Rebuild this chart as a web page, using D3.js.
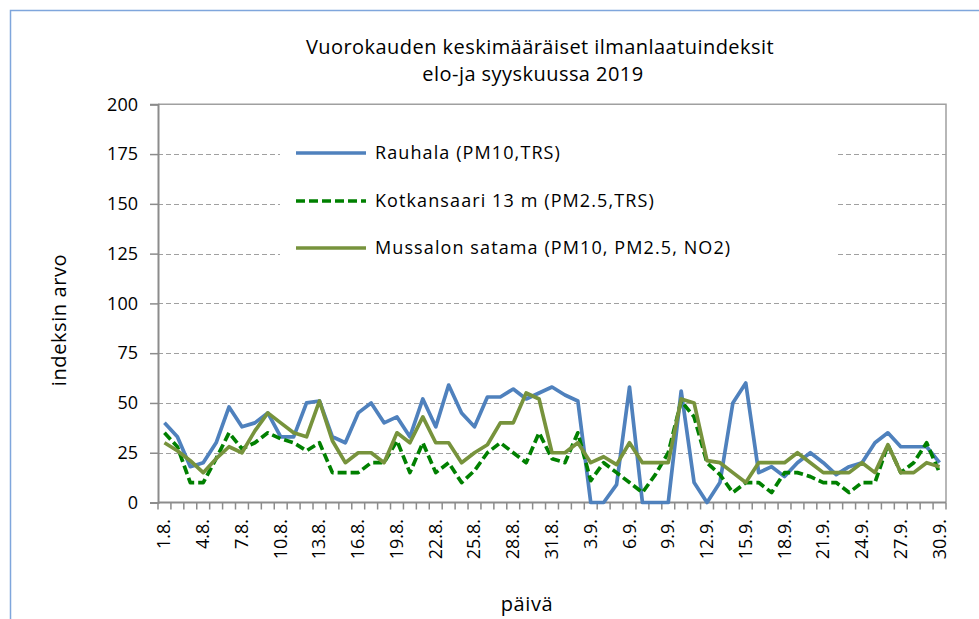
<!DOCTYPE html>
<html><head><meta charset="utf-8">
<script src="https://cdn.jsdelivr.net/npm/d3@7/dist/d3.min.js"></script>
<style>
body{margin:0;background:#fff;}
text{font-family:"Open Sans",sans-serif;fill:#000;}
</style></head>
<body><svg id="c" width="979" height="619"></svg>
<script>
const categories = [];
for (let d = 1; d <= 31; d++) categories.push(d + ".8.");
for (let d = 1; d <= 30; d++) categories.push(d + ".9.");
const tickLabels = categories.filter((c, i) => i % 3 === 0);
const yTicks = [0, 25, 50, 75, 100, 125, 150, 175, 200];
const seriesNames = ["Rauhala (PM10,TRS)", "Kotkansaari 13 m (PM2.5,TRS)", "Mussalon satama (PM10, PM2.5, NO2)"];
const rauhala = [40,33,18,20,30,48,38,40,45,33,33,50,51,33,30,45,50,40,43,33,52,38,59,45,38,53,53,57,52,55,58,54,51,0,0,9,58,0,0,0,56,10,0,10,50,60,15,18,13,20,25,20,14,18,20,30,35,28,28,28,20];
const kotkansaari = [35,28,10,10,22,35,27,30,35,32,30,26,30,15,15,15,20,20,31,15,30,15,20,10,16,25,30,25,20,35,22,20,35,11,20,15,10,5,14,25,51,43,20,14,5,10,10,5,15,15,13,10,10,5,10,10,29,15,20,30,15];
const mussalo = [30,26,21,15,22,28,25,36,45,40,35,33,51,31,20,25,25,20,35,30,43,30,30,20,25,29,40,40,55,52,25,25,30,20,23,19,30,20,20,20,52,50,21,20,15,10,20,20,20,25,20,15,15,15,20,15,29,15,15,20,18];

const svg = d3.select("#c");
const L = 158, R = 946, T = 104.3, B = 502.5;
const x = d3.scaleBand().domain(categories).range([L, R]).padding(0);
const xc = c => x(c) + x.bandwidth() / 2;
const y = d3.scaleLinear().domain([0, 200]).range([B, T]);

// outer frame
svg.append("path").attr("d", `M10.5,619 L10.5,10.5 L979,10.5`).attr("fill", "none").attr("stroke", "#7fa6dc").attr("stroke-width", 1.5);

// title
svg.append("text").attr("x", 540).attr("y", 54).attr("text-anchor", "middle").attr("font-size", 20).attr("letter-spacing", 0.45).text("Vuorokauden keskimääräiset ilmanlaatuindeksit");
svg.append("text").attr("x", 533).attr("y", 81).attr("text-anchor", "middle").attr("font-size", 20).attr("letter-spacing", 0.45).text("elo-ja syyskuussa 2019");

// gridlines
svg.append("g").selectAll("line").data(yTicks.filter(v => v > 0 && v < 200)).join("line")
  .attr("x1", L).attr("x2", R).attr("y1", d => Math.round(y(d)) + 0.5).attr("y2", d => Math.round(y(d)) + 0.5)
  .attr("stroke", "#a0a0a0").attr("stroke-width", 1.2).attr("stroke-dasharray", "5,3");

// plot border top & right
svg.append("path").attr("d", `M${L},${T} L${R},${T} L${R},${B}`).attr("fill", "none").attr("stroke", "#a0a0a0").attr("stroke-width", 1.5);

// y axis
const yAxis = d3.axisLeft(y).tickValues(yTicks).tickSize(8).tickPadding(12);
const gy = svg.append("g").attr("transform", `translate(${L},0)`).call(yAxis);
gy.select(".domain").attr("stroke", "#8c8c8c").attr("stroke-width", 2);
gy.selectAll(".tick line").attr("stroke", "#8c8c8c").attr("stroke-width", 1.5);
gy.selectAll(".tick text").attr("font-size", 18).attr("font-family", "Open Sans").attr("fill", "#000");

// x axis line and ticks at band boundaries
svg.append("line").attr("x1", L).attr("x2", R).attr("y1", B).attr("y2", B).attr("stroke", "#8c8c8c").attr("stroke-width", 2);
const bounds = categories.map(c => x(c)).concat([R]);
svg.append("g").selectAll("line").data(bounds).join("line")
  .attr("x1", d => d).attr("x2", d => d).attr("y1", B).attr("y2", B + 7)
  .attr("stroke", "#8c8c8c").attr("stroke-width", 1.5);

// x tick labels
svg.append("g").selectAll("text").data(tickLabels).join("text")
  .attr("transform", d => `translate(${xc(d) + 6},519) rotate(-90)`)
  .attr("text-anchor", "end").attr("font-size", 18).text(d => d);

// axis titles
svg.append("text").attr("transform", "translate(66,320) rotate(-90)").attr("text-anchor", "middle").attr("font-size", 20).attr("letter-spacing", 0.6).text("indeksin arvo");
svg.append("text").attr("x", 527).attr("y", 611).attr("text-anchor", "middle").attr("font-size", 20).attr("letter-spacing", 0.6).text("päivä");

// legend box
svg.append("rect").attr("x", 280).attr("y", 128).attr("width", 556).attr("height", 140).attr("fill", "#fff");

const styles = [
  {color: "#4f81bd", dash: null, data: rauhala},
  {color: "#008000", dash: "9,4", data: kotkansaari},
  {color: "#77933c", dash: null, data: mussalo}
];
const line = d3.line().x((d, i) => xc(categories[i])).y(d => y(d));
[0, 1, 2].forEach(k => {
  const s = styles[k];
  const p = svg.append("path").datum(s.data).attr("d", line).attr("fill", "none")
    .attr("stroke", s.color).attr("stroke-width", 3.7).attr("stroke-linejoin", "round");
  if (s.dash) p.attr("stroke-dasharray", s.dash);
});

// legend entries
const ly = [153, 201, 248];
seriesNames.forEach((n, k) => {
  const s = styles[k];
  const l = svg.append("line").attr("x1", 296).attr("x2", 366).attr("y1", ly[k]).attr("y2", ly[k])
    .attr("stroke", s.color).attr("stroke-width", 3.7);
  if (s.dash) l.attr("stroke-dasharray", "9,4");
  svg.append("text").attr("x", 375).attr("y", ly[k] + 6).attr("font-size", 18).attr("letter-spacing", 1.1).text(n);
});
</script></body></html>
